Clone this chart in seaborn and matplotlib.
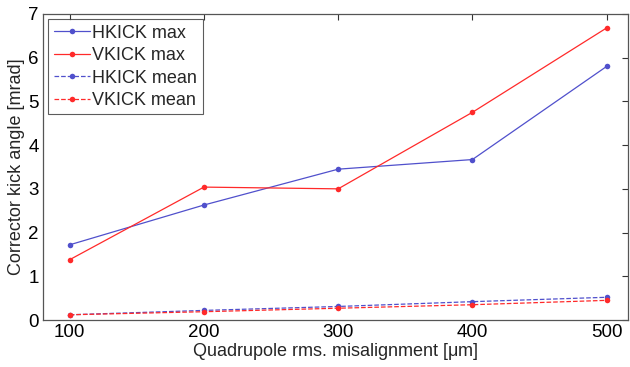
import numpy as np
import pandas as pd
import matplotlib
matplotlib.use("Agg")
import matplotlib.pyplot as plt
import seaborn as sns

# misalignment values [um]
misalign = [100, 200, 300, 400, 500]

hkick_max = [1.72, 2.63, 3.45, 3.67, 5.80]
vkick_max = [1.38, 3.04, 3.00, 4.75, 6.68]
hkick_mean = [0.12, 0.22, 0.31, 0.42, 0.52]
vkick_mean = [0.12, 0.19, 0.27, 0.35, 0.45]

series = ["HKICK max", "VKICK max", "HKICK mean", "VKICK mean"]

sns.set_theme(style="white")
plt.rcParams['font.family'] = ['Liberation Sans', 'DejaVu Sans']
plt.rcParams['mathtext.fontset'] = 'custom'
plt.rcParams['mathtext.rm'] = 'Liberation Sans'
plt.rcParams['mathtext.it'] = 'Liberation Sans'

blue = "#5050cc"
red = "#ff2a2a"
styles = {"HKICK max": (blue, "-"), "VKICK max": (red, "-"),
          "HKICK mean": (blue, "--"), "VKICK mean": (red, "--")}

df = pd.DataFrame({"x": misalign * 4,
                   "y": hkick_max + vkick_max + hkick_mean + vkick_mean,
                   "Series": sum([[s] * len(misalign) for s in series], [])})

fig = plt.figure(figsize=(6.3, 3.67), dpi=100)
ax = fig.add_axes([0.068, 0.128, 0.929, 0.834])

for s in series:
    c, ls = styles[s]
    sns.lineplot(data=df[df.Series == s], x="x", y="y", ax=ax, color=c,
                 linestyle=ls, linewidth=0.9, marker="o", markersize=4,
                 markeredgewidth=0, label=s)

ax.set_xlim(80, 516)
ax.set_ylim(0, 7)
ax.set_xticks(misalign)
ax.set_yticks(range(8))
ax.tick_params(direction="in", length=4, width=0.8, labelsize=13.5,
               top=True, right=True, colors="#333333", labelcolor="black", pad=3)
for sp in ax.spines.values():
    sp.set_color("#555555")
    sp.set_linewidth(0.9)

ax.set_xlabel(r"Quadrupole rms. misalignment [$\mathrm{\mu}$m]", fontsize=13, labelpad=0)
ax.set_ylabel("Corrector kick angle [mrad]", fontsize=13, labelpad=2)

leg = ax.legend(loc="upper left", fontsize=13, frameon=True, fancybox=False,
                borderpad=0.3, labelspacing=0.3, handlelength=2.0,
                handletextpad=0.15, borderaxespad=0.3)
leg.get_frame().set_edgecolor("#333333")
leg.get_frame().set_linewidth(0.8)

fig.savefig("out.png", dpi=100)
